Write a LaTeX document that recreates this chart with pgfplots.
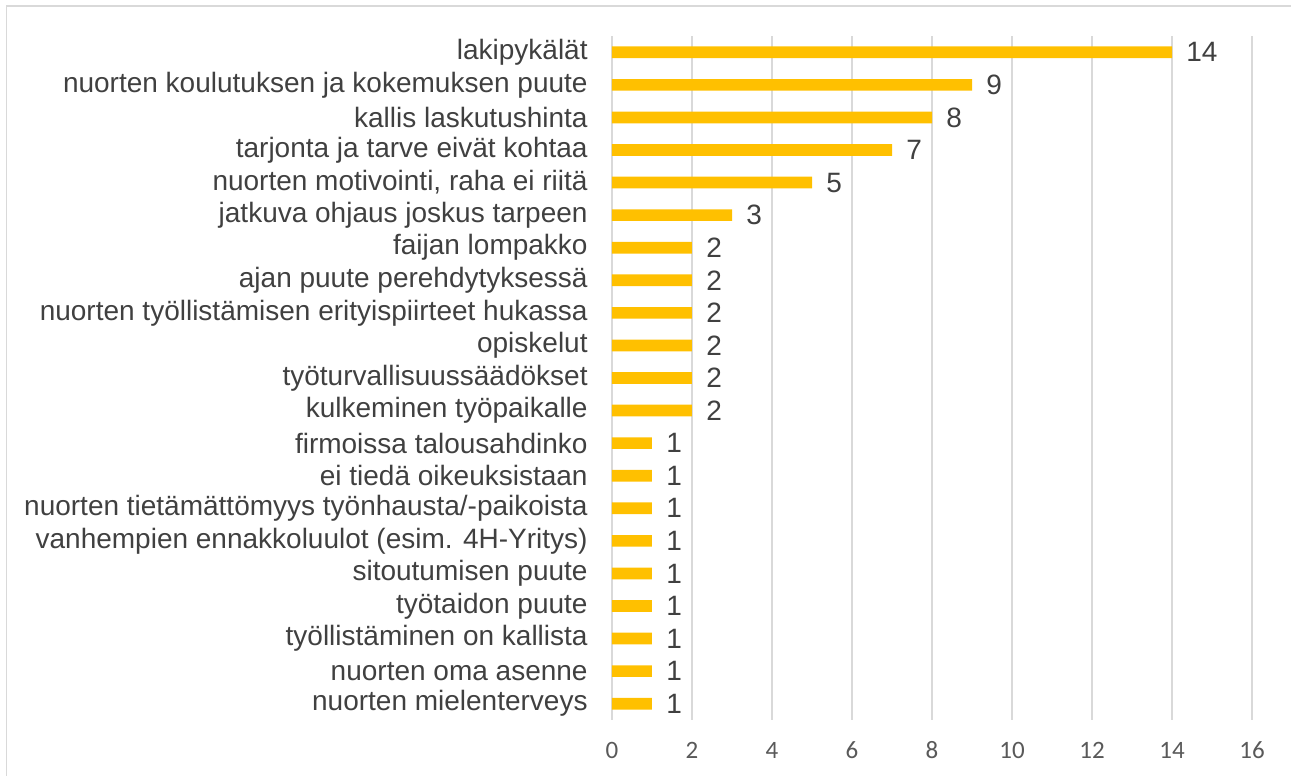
\documentclass[border=0pt]{standalone}
\usepackage{fontspec}
\setmainfont{Liberation Sans}
\newfontfamily\calibri{Carlito}
\usepackage{pgfplots}
\pgfplotsset{compat=1.18}
\definecolor{barcol}{HTML}{FFC000}
\definecolor{gridcol}{HTML}{D9D9D9}
\definecolor{txtcol}{HTML}{404040}
\definecolor{tickcol}{HTML}{595959}
\begin{document}
\begin{tikzpicture}
\path[use as bounding box] (0,0) rectangle (645.5pt,388pt);
\draw[gridcol, line width=0.9pt] (3.25pt,-2pt) -- (3.25pt,385pt) -- (650pt,385pt);
\begin{axis}[
  at={(306pt,28pt)}, anchor=south west,
  scale only axis, width=320pt, height=342pt,
  xmin=0, xmax=16, ymin=-0.5, ymax=20.5,
  y dir=reverse,
  xbar, bar width=5.85pt, bar shift=0pt,
  axis line style={draw=none},
  tick style={draw=none},
  major tick length=0pt,
  xmajorgrids,
  grid style={gridcol, line width=0.75pt},
  xtick={0,2,...,16},
  ytick={0,1,...,20},
  yticklabels={lakipykälät,nuorten koulutuksen ja kokemuksen puute,kallis laskutushinta,tarjonta ja tarve eivät kohtaa,{nuorten motivointi, raha ei riitä},jatkuva ohjaus joskus tarpeen,faijan lompakko,ajan puute perehdytyksessä,nuorten työllistämisen erityispiirteet hukassa,opiskelut,työturvallisuussäädökset,kulkeminen työpaikalle,firmoissa talousahdinko,ei tiedä oikeuksistaan,nuorten tietämättömyys työnhausta/-paikoista,vanhempien ennakkoluulot (esim. 4H-Yritys),sitoutumisen puute,työtaidon puute,työllistäminen on kallista,nuorten oma asenne,nuorten mielenterveys},
  yticklabel style={font=\fontsize{14}{16}\selectfont, text=txtcol, inner sep=0pt, xshift=-12pt},
  xticklabel style={font=\calibri\fontsize{12.5}{14}\selectfont, text=tickcol, inner sep=0pt, anchor=base, yshift=-19pt},
  /pgf/number format/assume math mode=true,
  nodes near coords,
  every node near coord/.append style={font=\fontsize{14}{16}\selectfont, text=txtcol, anchor=west, inner sep=0pt, xshift=7pt},
  clip=false,
]
\addplot[fill=barcol, draw=none] coordinates {
(14,0) (9,1) (8,2) (7,3) (5,4) (3,5) (2,6) (2,7) (2,8) (2,9) (2,10)
(2,11) (1,12) (1,13) (1,14) (1,15) (1,16) (1,17) (1,18) (1,19) (1,20)};
\end{axis}
\end{tikzpicture}
\end{document}
